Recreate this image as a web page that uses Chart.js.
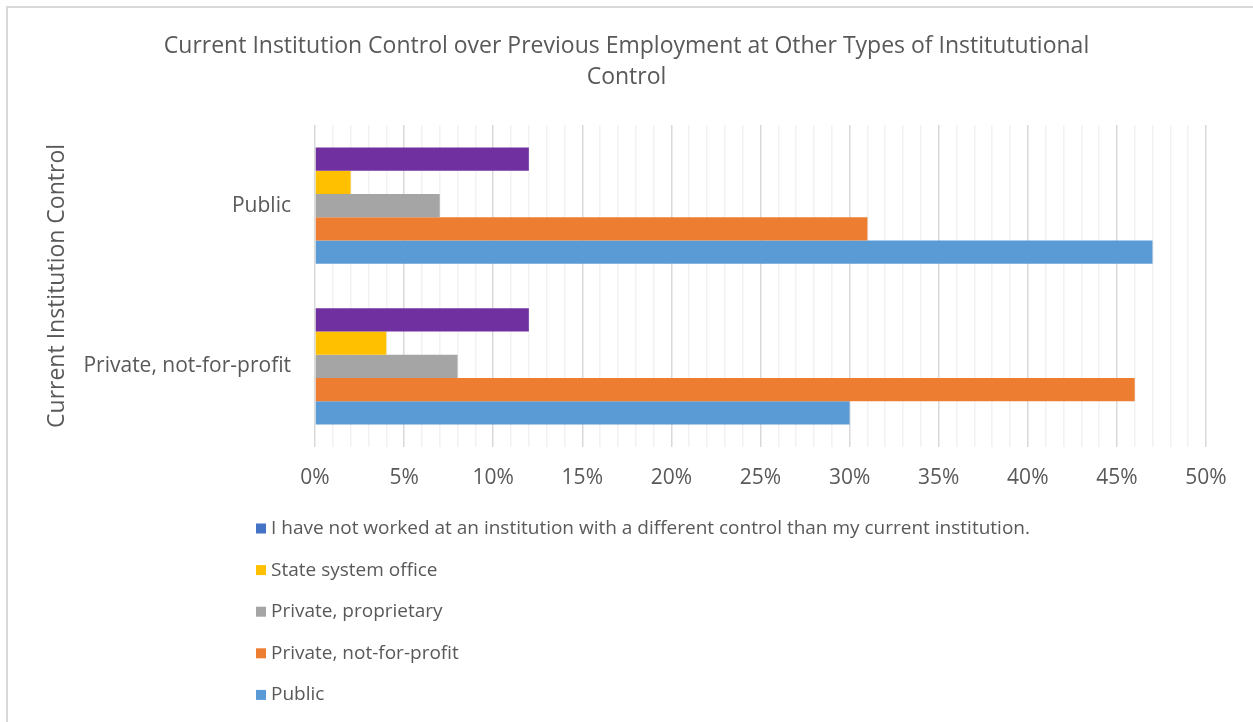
<!DOCTYPE html>
<html>
<head>
<meta charset="utf-8">
<script src="https://cdn.jsdelivr.net/npm/chart.js@4"></script>
<style>
  html, body { margin: 0; padding: 0; background: #ffffff; }
  #frame {
    position: absolute; left: 6px; top: 6px; width: 1300px; height: 760px;
    border-left: 2px solid #d9d9d9; border-top: 2px solid #d9d9d9;
  }
  #wrap { position: absolute; left: 0; top: 0; width: 1253px; height: 722px; }
</style>
</head>
<body>
<div id="frame"></div>
<div id="wrap"><canvas id="chart"></canvas></div>
<script>
const categories = ['Public', 'Private, not-for-profit'];
const seriesNames = [
  'I have not worked at an institution with a different control than my current institution.',
  'State system office',
  'Private, proprietary',
  'Private, not-for-profit',
  'Public',
];
const notWorked = [12, 12];
const stateOffice = [2, 4];
const privateProprietary = [7, 8];
const privateNonprofit = [31, 46];
const publicInst = [47, 30];

const barColors = ['#7030a0', '#ffc000', '#a5a5a5', '#ed7d31', '#5b9bd5'];
// excel shows the first legend key in blue, not the bar's purple
const keyColors = ['#4472c4', '#ffc000', '#a5a5a5', '#ed7d31', '#5b9bd5'];
const textColor = '#595959';
const fontFamily = '"Open Sans", sans-serif';

const seriesValues = [notWorked, stateOffice, privateProprietary, privateNonprofit, publicInst];

// vertical legend under the axis, one entry per line
const legendList = {
  id: 'legendList',
  afterDraw(chart) {
    const { ctx } = chart;
    ctx.save();
    ctx.font = '19px ' + fontFamily;
    ctx.textBaseline = 'middle';
    ctx.textAlign = 'left';
    chart.data.datasets.forEach((ds, i) => {
      const y = 528.5 + i * 41.6;
      ctx.fillStyle = keyColors[i];
      ctx.fillRect(256, y - 5, 10, 10);
      ctx.fillStyle = textColor;
      ctx.fillText(ds.label, 271, y);
    });
    ctx.restore();
  },
};

new Chart(document.getElementById('chart'), {
  type: 'bar',
  plugins: [legendList],
  data: {
    labels: categories,
    datasets: seriesNames.map((name, i) => ({
      label: name,
      data: seriesValues[i],
      backgroundColor: barColors[i],
      borderWidth: 0,
      barPercentage: 1,
      categoryPercentage: 0.723,
    })),
  },
  options: {
    indexAxis: 'y',
    responsive: true,
    maintainAspectRatio: false,
    animation: false,
    layout: { padding: { left: 47, right: 47, top: 0, bottom: 212 } },
    plugins: {
      legend: { display: false },
      tooltip: { enabled: false },
      title: {
        display: true,
        text: ['Current Institution Control over Previous Employment at Other Types of Institututional', 'Control'],
        color: textColor,
        font: { family: fontFamily, size: 23, weight: 'normal', lineHeight: 1.35 },
        padding: { top: 31, bottom: 32 },
      },
    },
    scales: {
      x: {
        min: 0,
        max: 50,
        ticks: {
          stepSize: 1,
          autoSkip: false,
          maxRotation: 0,
          padding: 19,
          color: textColor,
          font: { family: fontFamily, size: 21 },
          callback: (v) => (v % 5 === 0 ? v + '%' : ''),
        },
        grid: {
          drawTicks: false,
          lineWidth: 1.5,
          color: (c) => (c.tick && c.tick.value % 5 === 0 ? '#d9d9d9' : '#f2f2f2'),
        },
        border: { display: false },
      },
      y: {
        afterFit: (scale) => { scale.width = 268; },
        ticks: {
          padding: 24,
          color: textColor,
          font: { family: fontFamily, size: 21 },
        },
        grid: { display: false, drawTicks: false },
        border: { display: false },
        title: {
          display: true,
          text: 'Current Institution Control',
          color: textColor,
          font: { family: fontFamily, size: 23 },
          padding: { top: -3, bottom: 0 },
        },
      },
    },
  },
});
</script>
</body>
</html>
